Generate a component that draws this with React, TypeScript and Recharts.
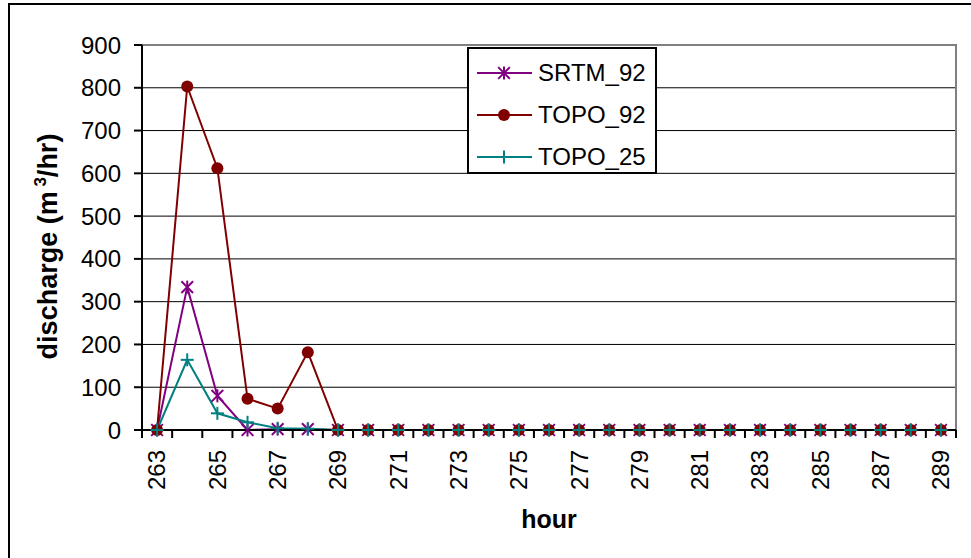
import React from 'react';
import {
  ComposedChart,
  Line,
  XAxis,
  YAxis,
  CartesianGrid,
  ReferenceArea,
  Legend,
} from 'recharts';

const hours = [
  '263', '264', '265', '266', '267', '268', '269', '270', '271',
  '272', '273', '274', '275', '276', '277', '278', '279', '280',
  '281', '282', '283', '284', '285', '286', '287', '288', '289',
];

const srtm92 = [0, 334, 80, 0, 2, 2, 0, 0, 0, 0, 0, 0, 0, 0, 0, 0, 0, 0, 0, 0, 0, 0, 0, 0, 0, 0, 0];
const topo92 = [0, 803, 612, 73, 50, 182, 0, 0, 0, 0, 0, 0, 0, 0, 0, 0, 0, 0, 0, 0, 0, 0, 0, 0, 0, 0, 0];
const topo25 = [0, 164, 39, 18, 4, 3, 0, 0, 0, 0, 0, 0, 0, 0, 0, 0, 0, 0, 0, 0, 0, 0, 0, 0, 0, 0, 0];

const yTicks = [0, 100, 200, 300, 400, 500, 600, 700, 800, 900];

const FONT = '"Liberation Sans", Arial, sans-serif';
const PURPLE = '#800080';
const MAROON = '#800000';
const TEAL = '#008080';

const W = 971;
const H = 558;
const M = { top: 45, right: 15, left: 82, bottom: 0 };
const PLOT_W = W - M.left - 60 - M.right;
const HALF_BAND = PLOT_W / hours.length / 2;

const data = hours.map((hour, i) => ({
  hour,
  SRTM_92: srtm92[i],
  TOPO_92: topo92[i],
  TOPO_25: topo25[i],
}));

function Star({ cx, cy, color }: { cx: number; cy: number; color: string }) {
  const r = 6.5;
  return (
    <g stroke={color} strokeWidth={2}>
      <line x1={cx - r * 0.9} y1={cy - r * 0.9} x2={cx + r * 0.9} y2={cy + r * 0.9} />
      <line x1={cx - r * 0.9} y1={cy + r * 0.9} x2={cx + r * 0.9} y2={cy - r * 0.9} />
      <line x1={cx} y1={cy - r} x2={cx} y2={cy + r} />
    </g>
  );
}

function Plus({ cx, cy, color }: { cx: number; cy: number; color: string }) {
  const r = 6.5;
  return (
    <g stroke={color} strokeWidth={2}>
      <line x1={cx - r} y1={cy} x2={cx + r} y2={cy} />
      <line x1={cx} y1={cy - r} x2={cx} y2={cy + r} />
    </g>
  );
}

function Dot({ cx, cy, color }: { cx: number; cy: number; color: string }) {
  return <circle cx={cx} cy={cy} r={6} fill={color} stroke="none" />;
}

const starDot = (p: any) => <Star key={`s${p.index}`} cx={p.cx} cy={p.cy} color={PURPLE} />;
const roundDot = (p: any) => <Dot key={`c${p.index}`} cx={p.cx} cy={p.cy} color={MAROON} />;
const plusDot = (p: any) => <Plus key={`p${p.index}`} cx={p.cx} cy={p.cy} color={TEAL} />;

function HourTick(props: any) {
  const { x, y, payload } = props;
  const i = hours.indexOf(String(payload.value));
  const last = i === hours.length - 1;
  return (
    <g>
      <line x1={x - HALF_BAND} y1={y} x2={x - HALF_BAND} y2={y + 8} stroke="#000" strokeWidth={2} />
      {last && (
        <line x1={x + HALF_BAND} y1={y} x2={x + HALF_BAND} y2={y + 8} stroke="#000" strokeWidth={2} />
      )}
      {i % 2 === 0 && (
        <text
          x={x}
          y={y + 20}
          dy="0.35em"
          transform={`rotate(-90, ${x}, ${y + 20})`}
          textAnchor="end"
          fontSize={24}
          fontFamily={FONT}
          fill="#000"
        >
          {payload.value}
        </text>
      )}
    </g>
  );
}

function HourLabel(props: any) {
  const vb = props.viewBox;
  return (
    <text
      x={vb.x + vb.width / 2}
      y={vb.y + 98}
      textAnchor="middle"
      fontSize={25}
      fontWeight="bold"
      fontFamily={FONT}
      fill="#000"
    >
      hour
    </text>
  );
}

function DischargeLabel(props: any) {
  const vb = props.viewBox;
  const cx = 57;
  const cy = vb.y + vb.height / 2 + 9;
  return (
    <text
      x={cx}
      y={cy}
      transform={`rotate(-90, ${cx}, ${cy})`}
      textAnchor="middle"
      fontSize={27}
      fontWeight="bold"
      fontFamily={FONT}
      fill="#000"
    >
      discharge (m
      <tspan fontSize={17} dy={-11}> 3</tspan>
      <tspan dy={11}>/hr)</tspan>
    </text>
  );
}

const legendItems = [
  { name: 'SRTM_92', color: PURPLE, kind: 'star' },
  { name: 'TOPO_92', color: MAROON, kind: 'dot' },
  { name: 'TOPO_25', color: TEAL, kind: 'plus' },
];

function LegendBox() {
  return (
    <div
      style={{
        position: 'relative',
        width: 186,
        height: 123,
        border: '2px solid #000',
        background: '#fff',
        fontFamily: FONT,
        fontSize: 24,
      }}
    >
      {legendItems.map((it, i) => (
        <div
          key={it.name}
          style={{ position: 'absolute', left: 0, top: 8 + i * 42, height: 32, display: 'flex', alignItems: 'center' }}
        >
          <svg width={66} height={32} style={{ display: 'block' }}>
            <line x1={8} y1={16} x2={63} y2={16} stroke={it.color} strokeWidth={2} />
            {it.kind === 'star' && <Star cx={35} cy={16} color={it.color} />}
            {it.kind === 'dot' && <Dot cx={35} cy={16} color={it.color} />}
            {it.kind === 'plus' && <Plus cx={35} cy={16} color={it.color} />}
          </svg>
          <span style={{ marginLeft: 3, lineHeight: '32px', color: '#000' }}>{it.name}</span>
        </div>
      ))}
    </div>
  );
}

export default function App() {
  return (
    <div
      style={{
        position: 'absolute',
        left: 0,
        top: 0,
        width: W,
        height: H,
        overflow: 'hidden',
        background: '#fff',
      }}
    >
      <div
        style={{
          position: 'absolute',
          left: 8,
          top: 3,
          width: 990,
          height: 600,
          border: '2px solid #000',
        }}
      />
      <ComposedChart width={W} height={H} data={data} margin={M} style={{ fontFamily: FONT }}>
        <CartesianGrid vertical={false} stroke="#000" strokeWidth={1} />
        <ReferenceArea
          y1={0}
          y2={900}
          fill="none"
          stroke="#808080"
          strokeWidth={2}
          strokeDasharray="1199 3000"
        />
        <XAxis
          dataKey="hour"
          type="category"
          scale="band"
          interval={0}
          height={128}
          tickLine={false}
          tickSize={0}
          tickMargin={0}
          axisLine={{ stroke: '#000', strokeWidth: 2 }}
          tick={<HourTick />}
          label={<HourLabel />}
        />
        <YAxis
          width={60}
          domain={[0, 900]}
          ticks={yTicks}
          interval={0}
          tickSize={8}
          tickMargin={13}
          axisLine={{ stroke: '#000', strokeWidth: 2 }}
          tickLine={{ stroke: '#000', strokeWidth: 2 }}
          tick={{ fontSize: 24, fill: '#000', fontFamily: FONT }}
          label={<DischargeLabel />}
        />
        <Legend
          layout="horizontal"
          verticalAlign="middle"
          align="center"
          content={() => <LegendBox />}
          wrapperStyle={{ position: 'absolute', left: 467, top: 47, width: 190, height: 127 }}
        />
        <Line
          dataKey="SRTM_92"
          stroke={PURPLE}
          strokeWidth={2}
          dot={starDot}
          activeDot={false}
          isAnimationActive={false}
        />
        <Line
          dataKey="TOPO_92"
          stroke={MAROON}
          strokeWidth={2}
          dot={roundDot}
          activeDot={false}
          isAnimationActive={false}
        />
        <Line
          dataKey="TOPO_25"
          stroke={TEAL}
          strokeWidth={2}
          dot={plusDot}
          activeDot={false}
          isAnimationActive={false}
        />
      </ComposedChart>
    </div>
  );
}
